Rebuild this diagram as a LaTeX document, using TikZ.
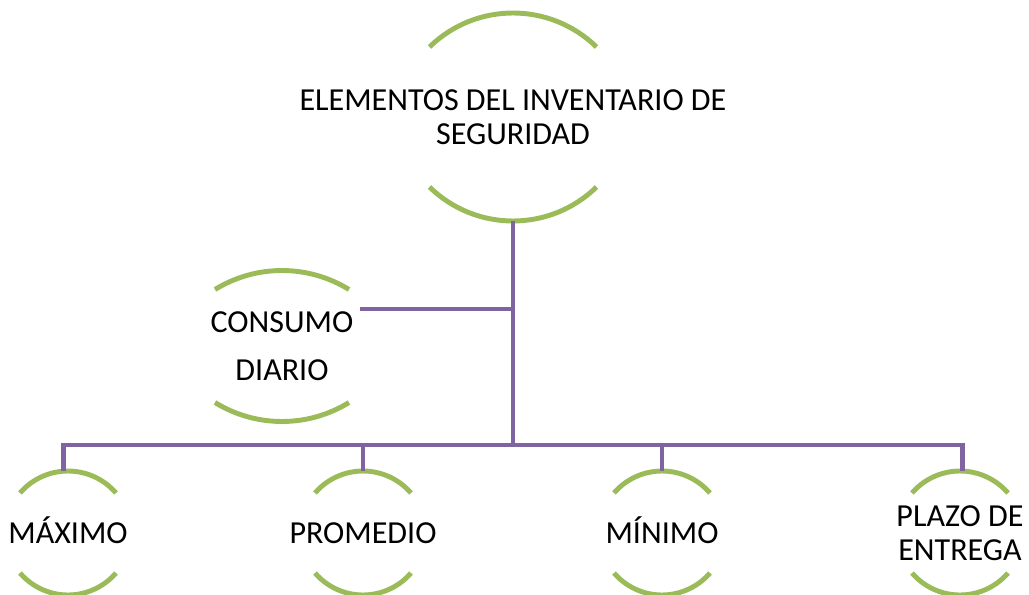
\documentclass[tikz,border=0pt]{standalone}
\usepackage{fontspec}
\setmainfont{Carlito}
\usetikzlibrary{calc}
\definecolor{leafgreen}{HTML}{9BBB59}
\definecolor{linkpurple}{HTML}{8064A2}

% two green arcs round a node: #1 node, #2 half width, #3 offset, #4 sagitta
\newcommand{\leafarcs}[4]{%
  \pgfmathsetmacro\arcr{(#2*#2+#4*#4)/(2*#4)}
  \pgfmathsetmacro\arct{asin(#2/\arcr)}
  \draw[leaf] ($(#1)+(-#2,#3)$) arc[start angle=90+\arct, end angle=90-\arct, radius=\arcr];
  \draw[leaf] ($(#1)+(-#2,-#3)$) arc[start angle=270-\arct, end angle=270+\arct, radius=\arcr];
}

\begin{document}
\begin{tikzpicture}[x=0.025cm, y=0.025cm,
    leaf/.style ={draw=leafgreen, line width=3.5pt},
    link/.style ={draw=linkpurple, line width=3.5pt},
    item/.style ={rectangle, inner sep=0pt, align=center,
                  font=\fontsize{22.8}{24.5}\selectfont},
    small/.style ={item, minimum height=3.1cm},
    oneline/.style ={small, text height=19pt, text depth=4.5pt}]
   \useasboundingbox (0,0) rectangle (1029,594);
   \node[item, minimum height=5.175cm] (root) at (513,477)
        {ELEMENTOS DEL INVENTARIO DE\\SEGURIDAD};
   \node[item, font=\fontsize{22.8}{34}\selectfont] (consumo) at (282,248)
        {CONSUMO\\DIARIO};
   \node[oneline] (maximo)   at (68,61)  {MÁXIMO};
   \node[oneline] (promedio) at (363,61) {PROMEDIO};
   \node[oneline] (minimo)   at (662,61) {MÍNIMO};
   \node[small]   (plazo)    at (960,61) {PLAZO DE\\ENTREGA};
   \leafarcs{root}{83.5}{70}{34}
   \leafarcs{consumo}{67}{56.5}{19}
   \leafarcs{maximo}{48}{40}{22}
   \leafarcs{promedio}{48}{40}{22}
   \leafarcs{minimo}{48}{40}{22}
   \leafarcs{plazo}{48}{40}{22}
   \coordinate (bus) at (root.south |- 0,149);
   \coordinate (cjoin) at (root.south |- 0,285);
   \coordinate (cend) at (360,285);
   \draw[link] (root.south) -- (bus);
   \draw[link] (cjoin) -- (cend);
   \draw[link] (bus) -| ([xshift=-3]maximo.north);
   \draw[link] (bus) -| (promedio.north);
   \draw[link] (bus) -| (minimo.north);
   \draw[link] (bus) -| ([xshift=2]plazo.north);
 \end{tikzpicture}
\end{document}
